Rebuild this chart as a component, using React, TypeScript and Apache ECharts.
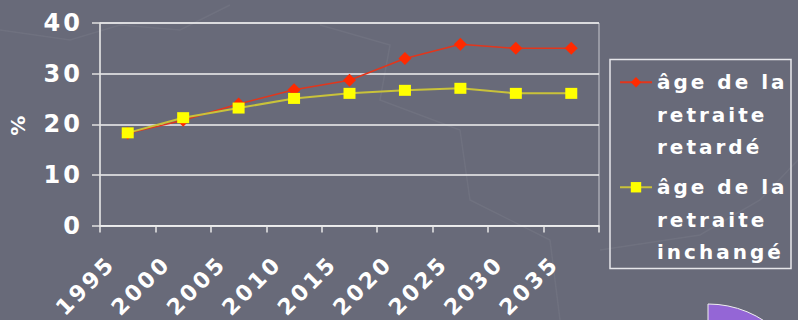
import React, { useEffect, useRef } from "react";
import * as echarts from "echarts";

// Years on the horizontal axis
const years = ["1995", "2000", "2005", "2010", "2015", "2020", "2025", "2030", "2035"];
// Share (%) when the retirement age is pushed back
const retardValues = [18.2, 20.8, 24.0, 26.8, 28.7, 33.0, 35.8, 35.0, 35.0];
// Share (%) when the retirement age stays the same
const inchangeValues = [18.3, 21.3, 23.2, 25.1, 26.1, 26.7, 27.1, 26.1, 26.1];
const yTicks = { min: 0, max: 40, interval: 10 };
const seriesNames = ["âge de la retraite retardé", "âge de la retraite inchangé"];

const FONT = "'DejaVu Sans', 'Liberation Sans', sans-serif";

// Wide-tracked lettering for every chart text
const TRACKING_CSS = ".retraite-chart text { letter-spacing: 3px; }";

export default function App() {
  const ref = useRef<HTMLDivElement>(null);

  useEffect(() => {
    if (!ref.current) return;
    const chart = echarts.init(ref.current, undefined, { renderer: "svg" });

    // Three-line legend label; two blank lines on top so the first line sits beside the icon
    const legendText = (name: string) =>
      "\n\n" + name.replace("la ", "la\n").replace("retraite ", "retraite\n");
    const legendCommon = {
      orient: "vertical" as const,
      left: 619,
      padding: 0,
      itemWidth: 32,
      itemHeight: 13,
      selectedMode: false,
      formatter: legendText,
      textStyle: {
        color: "#ffffff",
        fontFamily: FONT,
        fontWeight: "bold" as const,
        fontSize: 20,
        lineHeight: 32.5,
      },
    };

    const faint = { stroke: "rgba(255,255,255,0.05)", lineWidth: 1.5, fill: "none" };

    chart.setOption({
      animation: false,
      backgroundColor: "#686a79",
      grid: {
        left: 100,
        right: 199,
        top: 23,
        bottom: 94.5,
        outerBoundsMode: "none",
        containLabel: false,
        show: true,
        borderColor: "#c8c8d0",
        borderWidth: 1,
        backgroundColor: "transparent",
      },
      legend: [
        { ...legendCommon, top: 1, data: [seriesNames[0]] },
        { ...legendCommon, top: 106, data: [seriesNames[1]] },
      ],
      xAxis: {
        type: "category",
        data: years,
        boundaryGap: true,
        axisLine: { lineStyle: { color: "#f0f0f0", width: 1.5 } },
        axisTick: { show: true, length: 7, lineStyle: { color: "#e8e8e8", width: 1.5 } },
        axisLabel: {
          rotate: 45,
          margin: 18,
          color: "#ffffff",
          fontFamily: FONT,
          fontWeight: "bold",
          fontSize: 22,
          // right padding slides each slanted year down-left, away from its tick
          padding: [0, 23, 0, 0],
        },
      },
      yAxis: {
        type: "value",
        ...yTicks,
        name: "%",
        nameLocation: "middle",
        nameRotate: 90,
        nameGap: 72,
        nameTextStyle: { color: "#ffffff", fontFamily: FONT, fontWeight: "bold", fontSize: 20 },
        axisLine: { show: true, lineStyle: { color: "#e0e0e0", width: 1.5 } },
        axisTick: { show: true, length: 8, lineStyle: { color: "#e0e0e0", width: 1.5 } },
        splitLine: { lineStyle: { color: "#f2f2f2", width: 1.5 } },
        axisLabel: {
          margin: 17,
          color: "#ffffff",
          fontFamily: FONT,
          fontWeight: "bold",
          fontSize: 24,
        },
      },
      series: [
        {
          name: seriesNames[0],
          type: "line",
          data: retardValues,
          symbol: "diamond",
          symbolSize: 13,
          lineStyle: { color: "#e2361c", width: 1.5 },
          itemStyle: { color: "#ff2a00" },
          z: 2,
        },
        {
          name: seriesNames[1],
          type: "line",
          data: inchangeValues,
          symbol: "rect",
          symbolSize: [12, 11],
          lineStyle: { color: "#c9c23a", width: 2 },
          itemStyle: { color: "#ffff00" },
          z: 3,
        },
      ],
      graphic: [
        // faint map-like strokes in the backdrop
        {
          type: "polyline",
          z: -10,
          shape: { points: [[0, 30], [70, 40], [120, 25], [180, 30], [230, 5]] },
          style: faint,
        },
        {
          type: "polyline",
          z: -10,
          shape: { points: [[320, 25], [390, 45], [380, 100], [460, 130], [470, 200], [550, 240], [560, 320]] },
          style: faint,
        },
        {
          type: "polyline",
          z: -10,
          shape: { points: [[600, 250], [700, 235], [760, 200], [798, 160]] },
          style: faint,
        },
        {
          type: "rect",
          shape: { x: 610, y: 59.5, width: 181, height: 209 },
          style: { fill: "transparent", stroke: "#e6e6ea", lineWidth: 1.5 },
          z: -1,
        },
        {
          type: "sector",
          shape: { cx: 708, cy: 406, r: 102, startAngle: -Math.PI / 2, endAngle: -Math.PI / 4, clockwise: true },
          style: { fill: "#9466d6", stroke: "#f0f0f0", lineWidth: 1 },
        },
      ],
    });

    return () => chart.dispose();
  }, []);

  return (
    <>
      <style>{TRACKING_CSS}</style>
      <div
        ref={ref}
        className="retraite-chart"
        style={{ position: "fixed", left: 0, top: 0, width: 798, height: 320 }}
      />
    </>
  );
}
